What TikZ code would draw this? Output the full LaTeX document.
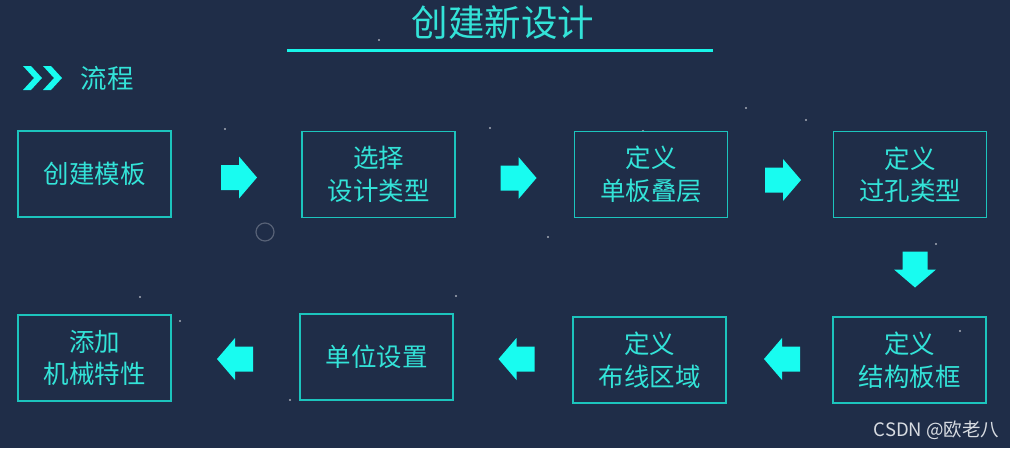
\documentclass[tikz,border=0pt]{standalone}
\usepackage{fontspec}
\setmainfont{Noto Sans CJK SC}
\definecolor{bgc}{HTML}{1F2D48}
\definecolor{boxc}{HTML}{1CC4BD}
\definecolor{txtc}{HTML}{33E3D8}
\definecolor{arrc}{HTML}{18FCF0}
\definecolor{wmc}{HTML}{D8DCE2}
\tikzset{
  stepbox/.style={draw=boxc, line width=1.8pt, minimum width=153pt, minimum height=86pt,
    text=txtc, font=\fontsize{25.5}{32.5}\selectfont, align=center, inner sep=0pt},
  blockarrow/.pic={\fill[arrc] (-18,-12.5) -- (0,-12.5) -- (0,-21) -- (18,0) -- (0,21) -- (0,12.5) -- (-18,12.5) -- cycle;}
}
\begin{document}
\begin{tikzpicture}[x=1pt,y=-1pt]
\fill[bgc] (0,0) rectangle (1010,448);
\useasboundingbox (0,0) rectangle (1010,448);
% faint background dots
\foreach \p in {(379,40),(225,129),(490,128),(643,131),(746,108),(806,120),(936,244),(548,237),(140,297),(456,296),(960,331),(180,321),(290,400)}
  \fill[white!60!bgc] \p circle (1.1);
\draw[white!25!bgc, line width=1.2pt] (265,232) circle (9);
% title
\node[text=txtc, font=\fontsize{36.5}{44}\selectfont] (title) at (503,23) {创建新设计};
\coordinate (ul) at (287,50);
\coordinate (ur) at (713,50);
\draw[arrc!85!boxc, line width=3pt] (ul) -- (ur);
% process marker
\fill[arrc] (23,66) -- (31,66) -- (42,78) -- (31,90) -- (23,90) -- (34,78) -- cycle;
\fill[arrc] (43,66) -- (51,66) -- (62,78) -- (51,90) -- (43,90) -- (54,78) -- cycle;
\node[text=txtc, font=\fontsize{26.5}{30}\selectfont, anchor=west] (flow) at (77,78) {流程};
% boxes
\node[stepbox] (b1) at (94.5,174) {创建模板};
\node[stepbox] (b2) at (378.5,174.5) {选择\\设计类型};
\node[stepbox] (b3) at (651,174.5) {定义\\单板叠层};
\node[stepbox] (b4) at (910,174.5) {定义\\过孔类型};
\node[stepbox] (b5) at (909.5,360) {定义\\结构板框};
\node[stepbox] (b6) at (649.5,360) {定义\\布线区域};
\node[stepbox] (b7) at (376.5,357) {单位设置};
\node[stepbox] (b8) at (94.5,358) {添加\\机械特性};
% arrows
\pic at (239,177.5) {blockarrow};
\pic at (518.5,178) {blockarrow};
\pic at (783,180) {blockarrow};
\pic[rotate=-90] at (915,269.5) {blockarrow};
\pic[rotate=180] at (782,359) {blockarrow};
\pic[rotate=180] at (516.5,359) {blockarrow};
\pic[rotate=180] at (235,359) {blockarrow};
% watermark
\node[text=wmc, font=\fontsize{18.5}{22}\selectfont, anchor=east] (wm) at (1003,430) {CSDN @欧老八};
\end{tikzpicture}
\end{document}
